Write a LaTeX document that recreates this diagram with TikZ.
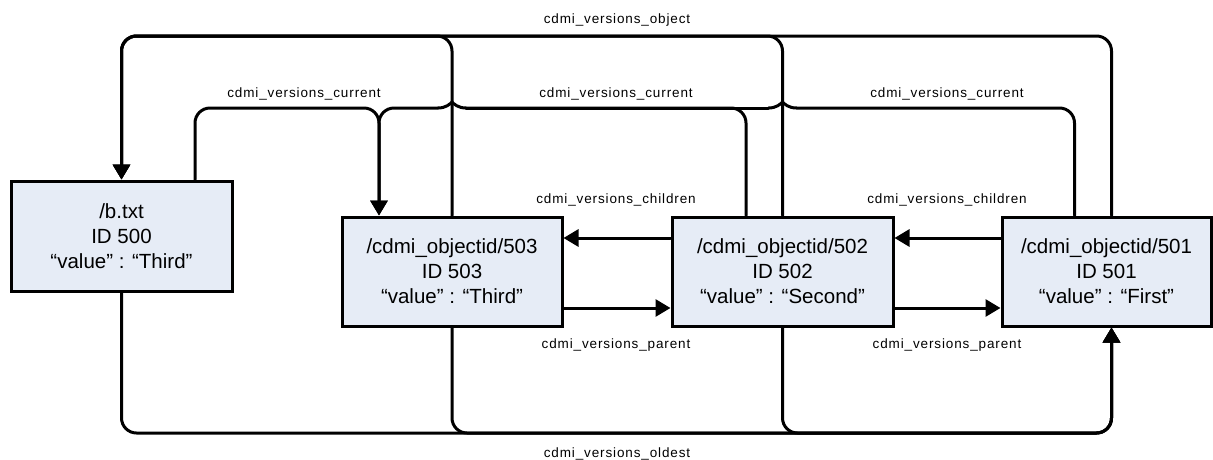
\documentclass[tikz,border=0pt]{standalone}
\usepackage{fontspec}
\setmainfont{Liberation Sans}
\newfontfamily\labfont[LetterSpace=6.5]{Liberation Sans}
\usetikzlibrary{arrows.meta}
\definecolor{boxfill}{HTML}{E6ECF6}
\tikzset{
 obj/.style={draw=black, line width=3pt, fill=boxfill, align=center, inner sep=0pt, font=\fontsize{20.5}{25}\selectfont},
 conn/.style={draw=black, line width=3pt, line cap=round, line join=round},
 arr/.style={-{Triangle[length=15pt,width=17pt]}},
 lab/.style={font=\labfont\fontsize{13.5}{16}\selectfont, inner sep=0pt, anchor=base},
 rc/.style={rounded corners=15pt},
}
\newcommand\drawhop[1]{\draw[conn] ([xshift=14pt]#1) .. controls ([xshift=6pt]#1) and ([xshift=2pt,yshift=4pt]#1) .. ([yshift=6pt]#1) .. controls ([xshift=-2pt,yshift=4pt]#1) and ([xshift=-6pt]#1) .. ([xshift=-14pt]#1);}
\begin{document}
\begin{tikzpicture}[x=1pt,y=-1pt]
\useasboundingbox (0,0) rectangle (1213,459);

\node[obj, minimum width=221pt, minimum height=110pt] (A) at (121.5,236) {/b.txt\\ID 500\\“value” : “Third”};
\node[obj, minimum width=220pt, minimum height=109pt] (B) at (452,271.5) {/cdmi\_objectid/503\\ID 503\\“value” : “Third”};
\node[obj, minimum width=221pt, minimum height=109pt] (C) at (782.5,271.5) {/cdmi\_objectid/502\\ID 502\\“value” : “Second”};
\node[obj, minimum width=209pt, minimum height=109pt] (D) at (1106.5,271.5) {/cdmi\_objectid/501\\ID 501\\“value” : “First”};

\coordinate (ytop) at (0,36);
\coordinate (ycur) at (0,108);
\coordinate (ybot) at (0,433);
\coordinate (Bcur) at ([xshift=-73pt]B.north);
\coordinate (Dobj) at ([xshift=111pt]D.north west);
\coordinate (Dcur) at ([xshift=74pt]D.north west);
\coordinate (Dold) at ([xshift=111pt]D.south west);
\coordinate (Acur) at ([xshift=73.5pt]A.north);
\coordinate (Ccur) at ([xshift=-36.5pt]C.north);
\coordinate (h1) at (B.north |- ycur);
\coordinate (h2) at (C.north |- ycur);

% cdmi_versions_object
\draw[conn,rc,arr] (Dobj) |- (ytop -| A.north) -- (A.north);
\draw[conn,rc,arr] (C.north) |- (ytop -| A.north) -- (A.north);
\draw[conn,rc,arr] (B.north) |- (ytop -| A.north) -- (A.north);

% cdmi_versions_current
\draw[conn,rc,arr] (Acur) |- (ycur -| Bcur) -- (Bcur);
\draw[conn,rc] (Ccur) |- ([xshift=14pt]h1);
\drawhop{h1}
\draw[conn,rc,arr] ([xshift=-14pt]h1) -| (Bcur);
\draw[conn,rc] (Dcur) |- ([xshift=14pt]h2);
\drawhop{h2}
\draw[conn] ([xshift=-14pt]h2) -- ([xshift=14pt]h1);

% cdmi_versions_oldest
\draw[conn,rc,arr] (A.south) |- (ybot -| Dold) -- (Dold);
\draw[conn,rc,arr] (B.south) |- (ybot -| Dold) -- (Dold);
\draw[conn,rc,arr] (C.south) |- (ybot -| Dold) -- (Dold);

% children / parent
\draw[conn,arr] ([yshift=33.5pt]C.west) -- ([yshift=33.5pt]B.east);
\draw[conn,arr] ([yshift=33.5pt]D.west) -- ([yshift=33.5pt]C.east);
\draw[conn,arr] ([yshift=-36.5pt]B.east) -- ([yshift=-36.5pt]C.west);
\draw[conn,arr] ([yshift=-36.5pt]C.east) -- ([yshift=-36.5pt]D.west);

% labels
\node[lab] (lobj) at (617,23) {cdmi\_versions\_object};
\node[lab] (lcur1) at (304,97) {cdmi\_versions\_current};
\node[lab] (lcur2) at (616,97) {cdmi\_versions\_current};
\node[lab] (lcur3) at (947,97) {cdmi\_versions\_current};
\node[lab] (lch1) at (616,203) {cdmi\_versions\_children};
\node[lab] (lch2) at (947,203) {cdmi\_versions\_children};
\node[lab] (lpa1) at (616,348) {cdmi\_versions\_parent};
\node[lab] (lpa2) at (947,348) {cdmi\_versions\_parent};
\node[lab] (lold) at (617,457.5) {cdmi\_versions\_oldest};
\end{tikzpicture}
\end{document}
